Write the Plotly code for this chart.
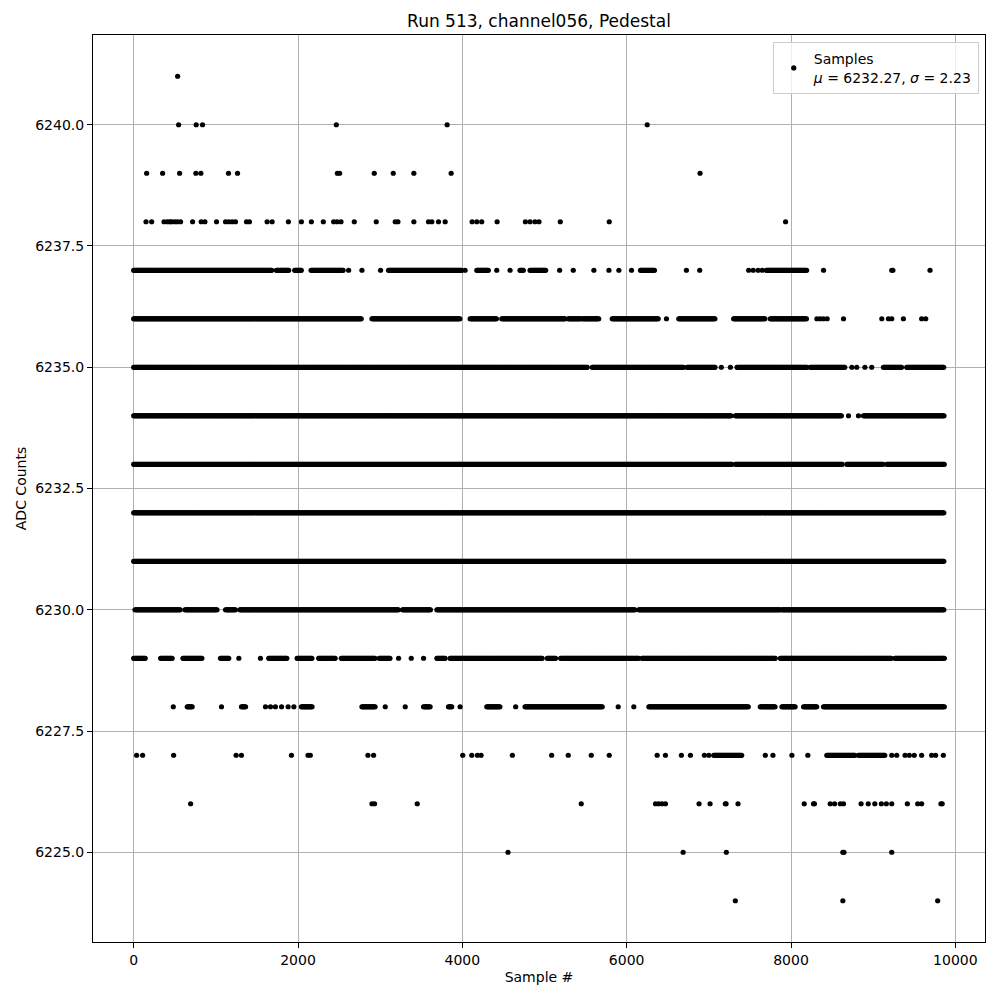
import numpy as np
import plotly.graph_objects as go

# ---- data (sample index runs / single samples per ADC level) ----
title_text = "Run 513, channel056, Pedestal"
legend_text = "Samples<br><i>μ</i> = 6232.27, <i>σ</i> = 2.23"
x_ticks = [0, 2000, 4000, 6000, 8000, 10000]
y_ticks = [6225.0, 6227.5, 6230.0, 6232.5, 6235.0, 6237.5, 6240.0]

pts_6241 = [535]
pts_6240 = [547, 761, 838, 2466, 3815, 6250]
pts_6239 = [158, 352, 559, 757, 818, 1154, 1264, 2479, 2507, 2928, 3159, 3410, 3864, 6893]
pts_6238 = [150, 219, 369, 409, 440, 462, 500, 531, 571, 717, 822, 867, 1008, 1118, 1158,
            1199, 1239, 1373, 1409, 1624, 1685, 1883, 2041, 2163, 2308, 2434, 2475, 2523,
            2685, 2952, 3183, 3216, 3410, 3588, 3629, 3710, 3791, 4119, 4176, 4236, 4423,
            4767, 4824, 4884, 4933, 5192, 5788, 7934]
seg_6237 = [(0, 1685), (1737, 1887), (1960, 2041), (2159, 2556), (3102, 3993), (4176, 4317),
            (4702, 4743), (4824, 5014), (6168, 6342), (7700, 8193)]
pts_6237 = [2616, 2778, 3005, 4034, 4419, 4581, 5184, 5350, 5601, 5784, 5905, 6059, 6727,
            6889, 7485, 7540, 7600, 7650, 8396, 9226, 9240, 9692]
seg_6236 = [(0, 2778), (2900, 3973), (4095, 4419), (4480, 5257), (5289, 5439), (5460, 5662),
            (5824, 6391), (6634, 7080), (7302, 7687), (7748, 8193)]
pts_6236 = [6484, 8315, 8355, 8395, 8440, 8639, 9105, 9186, 9226, 9368, 9590, 9640]
seg_6235 = [(0, 5520), (5581, 6695), (6735, 7080), (7343, 8193), (8234, 8659), (9125, 9348),
            (9408, 9866)]
pts_6235 = [7152, 7262, 8740, 8800, 8900, 8983]
seg_6234 = [(0, 7274), (7323, 8619), (8882, 9866)]
pts_6234 = [8700, 8821]
seg_6233 = [(0, 7282), (7323, 8627), (8679, 9125), (9165, 9866)]
seg_6232 = [(0, 9866)]
seg_6231 = [(0, 9866)]
seg_6230 = [(16, 571), (624, 1016), (1118, 1239), (1292, 3224), (3272, 3621), (3690, 6108),
            (6148, 7870), (7890, 9866)]
seg_6229 = [(0, 146), (328, 470), (600, 834), (1057, 1158), (1644, 1867), (1989, 2171),
            (2252, 2454), (2527, 2940), (2989, 3123), (3690, 3791), (3851, 4974), (5034, 5136),
            (5196, 6148), (6188, 7809), (7870, 9226), (9266, 9866)]
pts_6229 = [1280, 1543, 3224, 3378, 3528]
seg_6228 = [(652, 713), (1312, 1369), (2041, 2171), (2778, 2940), (3528, 3609), (3831, 3872),
            (4297, 4459), (4763, 5703), (6270, 7485), (7626, 7809), (7890, 8052), (8153, 8315),
            (8396, 9866)]
pts_6228 = [482, 1069, 1604, 1665, 1725, 1800, 1880, 1950, 3062, 3305, 3973, 4649, 5897, 6087]
seg_6227 = [(7060, 7403), (8436, 8780), (8821, 9150)]
pts_6227 = [36, 109, 486, 1247, 1312, 1920, 2122, 2150, 2851, 2920, 4005, 4115, 4184, 4228,
            4609, 5087, 5289, 5569, 5788, 6371, 6472, 6666, 6776, 6946, 7000, 7687, 7780, 8011,
            8205, 9226, 9287, 9388, 9440, 9500, 9590, 9712, 9760, 9854]
pts_6226 = [693, 2900, 2932, 3451, 5447, 6351, 6390, 6430, 6472, 6881, 7015, 7201, 7210, 7355,
            8161, 8274, 8285, 8477, 8530, 8600, 8639, 8853, 8940, 9020, 9100, 9160, 9226, 9416,
            9542, 9590, 9825, 9840]
pts_6225 = [4556, 6687, 7213, 8631, 8645, 9226]
pts_6224 = [7322, 8631, 9785]

levels = {
    6241: ([], pts_6241), 6240: ([], pts_6240), 6239: ([], pts_6239), 6238: ([], pts_6238),
    6237: (seg_6237, pts_6237), 6236: (seg_6236, pts_6236), 6235: (seg_6235, pts_6235),
    6234: (seg_6234, pts_6234), 6233: (seg_6233, []), 6232: (seg_6232, []),
    6231: (seg_6231, []), 6230: (seg_6230, []), 6229: (seg_6229, pts_6229),
    6228: (seg_6228, pts_6228), 6227: (seg_6227, pts_6227), 6226: ([], pts_6226),
    6225: ([], pts_6225), 6224: ([], pts_6224),
}

run_step = 10  # samples drawn per dense run
xs, ys = [], []
for lvl, (segs, pts) in levels.items():
    for a, b in segs:
        r = np.arange(a, b + 1, run_step)
        xs.extend(r.tolist())
        ys.extend([lvl] * len(r))
    xs.extend(pts)
    ys.extend([lvl] * len(pts))

FONT = "DejaVu Sans"
fig = go.Figure()
fig.add_trace(go.Scatter(
    x=xs, y=ys, mode="markers", name=legend_text,
    marker=dict(color="black", size=5.2, line=dict(width=0)),
    showlegend=True,
))

fig.update_layout(
    width=1000, height=1000,
    margin=dict(l=85, r=23, t=27, b=66, autoexpand=False),
    paper_bgcolor="white", plot_bgcolor="white",
    font=dict(family=FONT, size=14, color="black"),
    title=dict(text=title_text, x=0.5, xref="paper", xanchor="center", y=0.987,
               yanchor="middle", yref="container",
               font=dict(size=17, family=FONT, color="black")),
    legend=dict(x=0.993, y=0.992, xanchor="right", yanchor="top",
                bgcolor="rgba(255,255,255,0.8)", bordercolor="#cccccc", borderwidth=1,
                font=dict(size=14, family=FONT)),
    showlegend=True,
)
fig.update_xaxes(
    range=[-495, 10361], tickvals=x_ticks, ticktext=[str(v) for v in x_ticks],
    showgrid=True, gridcolor="#b0b0b0", gridwidth=1, zeroline=False,
    showline=True, linecolor="black", linewidth=1, mirror=True,
    ticks="outside", ticklen=5, tickcolor="black",
    title=dict(text="Sample #", font=dict(size=14, family=FONT), standoff=5),
    tickfont=dict(size=14, family=FONT), automargin=False,
)
fig.update_yaxes(
    range=[6223.15, 6241.85], tickvals=y_ticks, ticktext=[f"{v:.1f}" for v in y_ticks],
    showgrid=True, gridcolor="#b0b0b0", gridwidth=1, zeroline=False,
    showline=True, linecolor="black", linewidth=1, mirror=True,
    ticks="outside", ticklen=5, tickcolor="black",
    title=dict(text="ADC Counts", font=dict(size=14, family=FONT), standoff=5),
    tickfont=dict(size=14, family=FONT), automargin=False,
)

fig.write_html("out.html")
